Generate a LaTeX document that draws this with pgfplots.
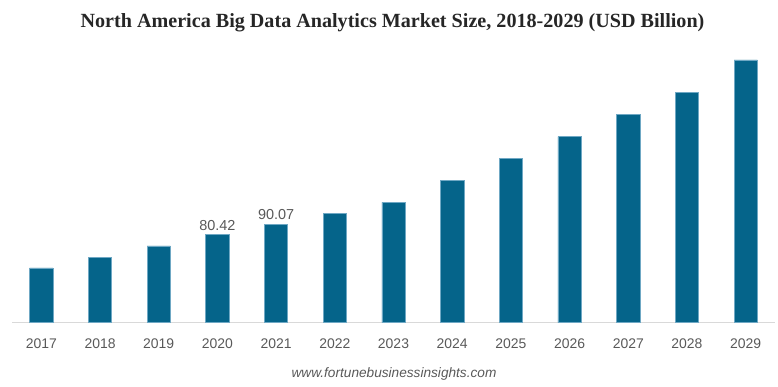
\documentclass[border=0pt]{standalone}
\usepackage{pgfplots}
\pgfplotsset{compat=1.18}
\usepackage{fontspec}
\setmainfont{Liberation Sans}
\newfontfamily\titlefont{Liberation Serif}
\definecolor{barblue}{HTML}{05648A}
\definecolor{baredge}{HTML}{6FA8C4}
\definecolor{txtgray}{HTML}{595959}
\definecolor{axgray}{HTML}{D9D9D9}
\begin{document}
\begin{tikzpicture}
\begin{axis}[
  at={(0,0)}, anchor=south west,
  scale only axis,
  width=763bp, height=262.7bp,
  xmin=-0.5, xmax=12.5,
  ymin=0, ymax=240,
  axis x line*=bottom,
  hide y axis,
  x axis line style={draw=axgray, line width=1bp, -},
  xtick=data,
  xticklabels={2017,2018,2019,2020,2021,2022,2023,2024,2025,2026,2027,2028,2029},
  major tick length=0pt,
  xticklabel style={font=\fontsize{14}{16}\selectfont, text=txtgray, yshift=-13bp},
  ybar, bar width=23.3bp,
  clip=false,
]
\addplot[fill=barblue, draw=baredge, line width=0.6bp] coordinates {
(0,50.0) (1,59.8) (2,70.1) (3,80.42) (4,90.07) (5,100.0) (6,110.0) (7,130.1) (8,150.2) (9,170.0) (10,190.1) (11,210.2) (12,240.0)
};
\node[anchor=south, font=\fontsize{14.5}{16}\selectfont, text=txtgray, inner sep=0pt] at (axis cs:3,80.42) [yshift=4bp] {80.42};
\node[anchor=south, font=\fontsize{14.5}{16}\selectfont, text=txtgray, inner sep=0pt] at (axis cs:4,90.07) [yshift=4bp] {90.07};
\end{axis}
\node[font=\titlefont\bfseries\fontsize{20.2}{22}\selectfont, text=black!85, inner sep=0pt] at (380.5bp,299.7bp) {North America Big Data Analytics Market Size, 2018-2029 (USD Billion)};
\node[font=\itshape\fontsize{13.7}{15}\selectfont, text=txtgray, inner sep=0pt] at (382bp,-51.3bp) {www.fortunebusinessinsights.com};
\pgfresetboundingbox
\path[use as bounding box] (-12bp,-64.3bp) rectangle (766bp,322.7bp);
\end{tikzpicture}
\end{document}
